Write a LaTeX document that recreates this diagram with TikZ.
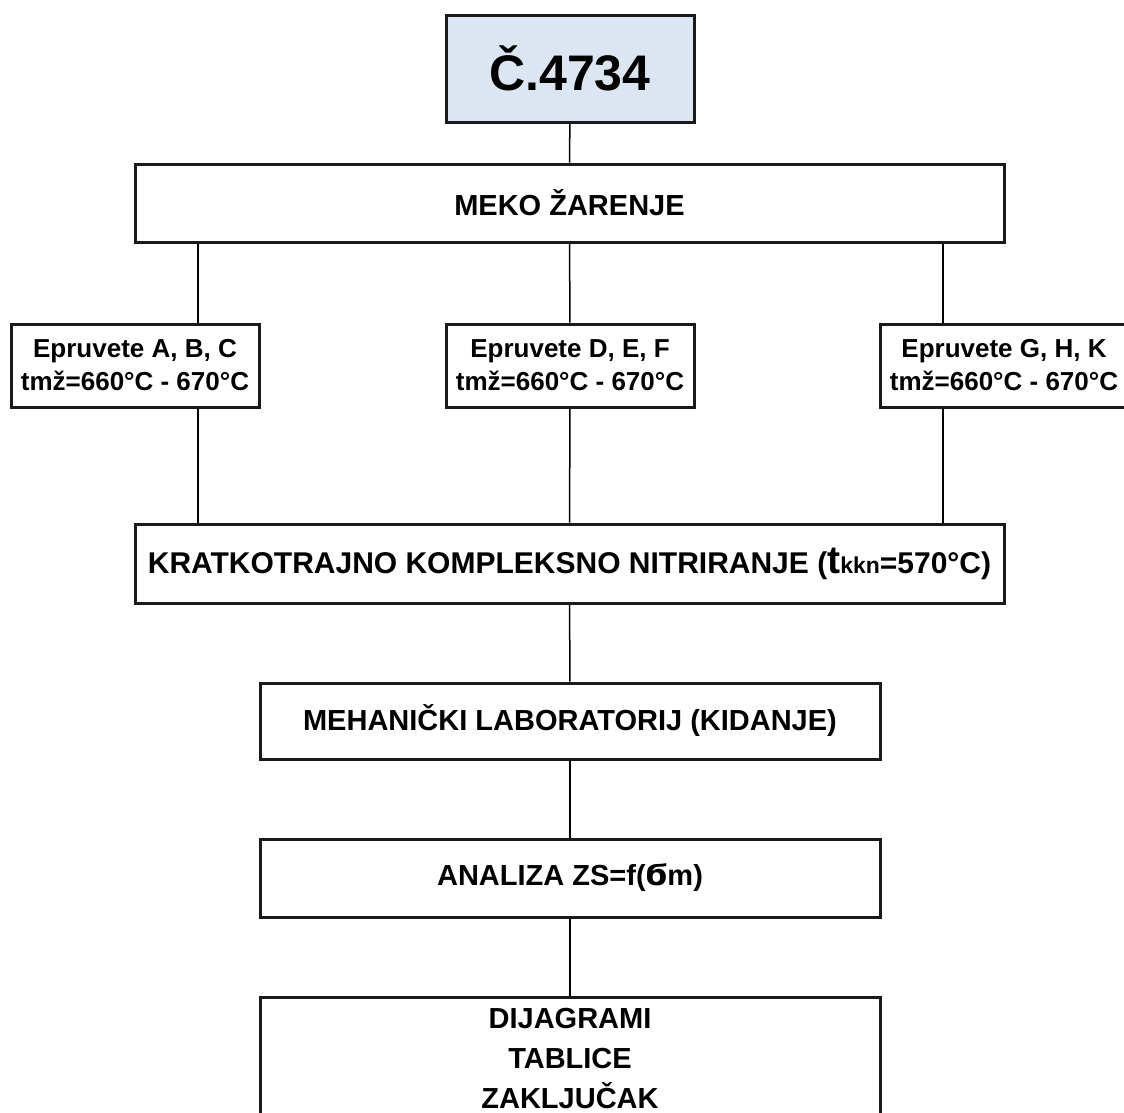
\documentclass[tikz,border=0pt]{standalone}
\usepackage{fontspec}
\setmainfont{Liberation Sans}
\newfontfamily\dejavu{DejaVu Sans}
\usepackage{tikz}
\definecolor{headBlue}{HTML}{DCE6F2}
\definecolor{frameGrey}{HTML}{1A1A1A}

\begin{document}
\begin{tikzpicture}[
  x=1pt, y=-1pt,
  font=\bfseries,
  stage/.style={draw=frameGrey, line width=3pt, fill=white, inner sep=0pt, align=center,
    font=\bfseries\fontsize{29}{40}\selectfont},
  sample/.style={stage, minimum width=248, minimum height=83,
    font=\bfseries\fontsize{26}{33}\selectfont},
  link/.style={line width=1.5pt, black}
]

  \useasboundingbox (0, 0) rectangle (1124, 1112);

  % Steel grade (top)
  \node[stage, fill=headBlue, minimum width=248, minimum height=107,
        font=\bfseries\fontsize{50}{56}\selectfont] (steel) at (570, 68.5) {Č.4734};

  % Soft annealing
  \node[stage, minimum width=869, minimum height=78] (annealing) at (569.5, 203) {MEKO ŽARENJE};

  % Three groups of samples
  \node[sample] (grpABC) at (135, 365.5) {Epruvete A, B, C\\tmž=660°C - 670°C};
  \node[sample] (grpDEF) at (570, 365.5) {Epruvete D, E, F\\tmž=660°C - 670°C};
  \node[sample] (grpGHK) at (1004, 365.5) {Epruvete G, H, K\\tmž=660°C - 670°C};

  % Nitriding
  \node[stage, minimum width=869, minimum height=79, font=\bfseries\fontsize{30}{40}\selectfont] (nitriding) at (569.5, 563.5)
    {KRATKOTRAJNO KOMPLEKSNO NITRIRANJE ({\fontsize{39}{40}\selectfont t}{\fontsize{23}{30}\selectfont kkn}=570°C)};

  % Testing and analysis
  \node[stage, minimum width=620, minimum height=76] (tensile) at (570, 721) {MEHANIČKI LABORATORIJ (KIDANJE)};
  \node[stage, minimum width=620, minimum height=78] (analysis) at (570, 878) {ANALIZA ZS=f({\dejavu\bfseries Ϭ}m)};
  \node[stage, minimum width=620, minimum height=122] (results) at (570, 1058) {DIJAGRAMI\\TABLICE\\ZAKLJUČAK};

  % Column positions of the side branches
  \coordinate (colL) at (198, 0);
  \coordinate (colR) at (943, 0);

  % Connectors
  \draw[link] (steel) -- (annealing);
  \draw[link] (colL |- annealing.south) -- (colL |- grpABC.north);
  \draw[link] (annealing) -- (grpDEF);
  \draw[link] (colR |- annealing.south) -- (colR |- grpGHK.north);
  \draw[link] (colL |- grpABC.south) -- (colL |- nitriding.north);
  \draw[link] (grpDEF) -- (nitriding);
  \draw[link] (colR |- grpGHK.south) -- (colR |- nitriding.north);
  \draw[link] (nitriding) -- (tensile);
  \draw[link] (tensile) -- (analysis);
  \draw[link] (analysis) -- (results);

\end{tikzpicture}
\end{document}
